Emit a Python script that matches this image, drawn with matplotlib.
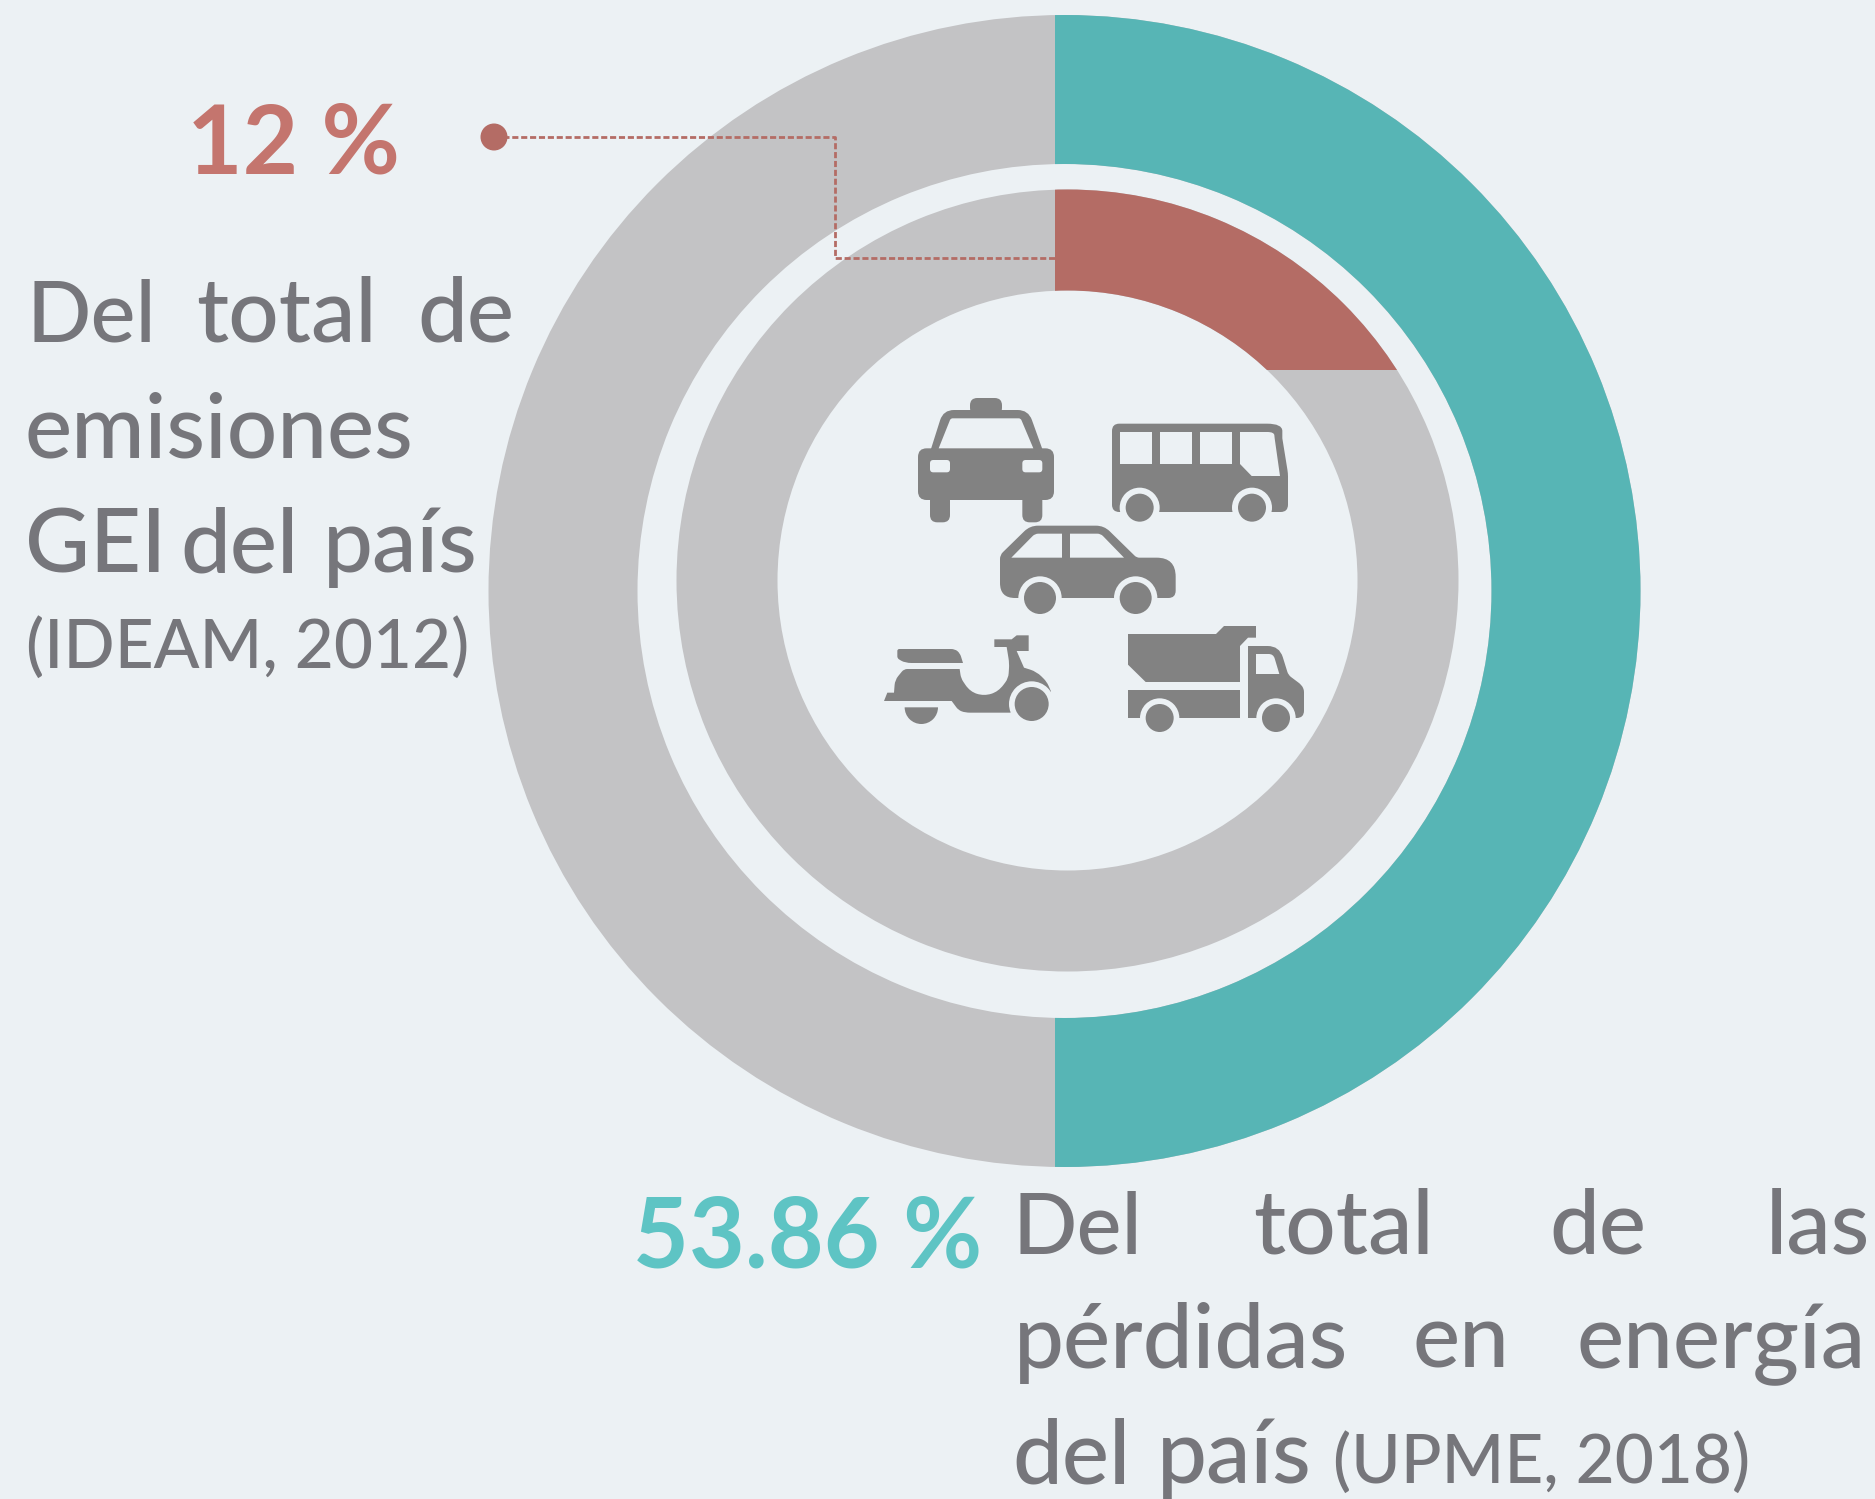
import numpy as np
import matplotlib
matplotlib.use("Agg")
import matplotlib.pyplot as plt
from matplotlib.patches import Wedge, Rectangle, Circle, PathPatch
from matplotlib.path import Path

# shares as they are drawn in the picture (the rings do not follow the printed labels)
outer_shares = [50.53, 49.47]
inner_shares = [16.47, 83.53]

big_labels = ["12 %", "53.86 %"]
words = ["Del", "total", "de",
         "emisiones",
         "GEI", "del", "país",
         "Del", "total", "de", "las",
         "pérdidas", "en", "energía",
         "del", "país"]
sources = ["(IDEAM, 2012)", "(UPME, 2018)"]

# layout of the justified text, left edge and baseline of each word
word_x = [26, 196, 417, 25, 25, 180, 323, 1013, 1253, 1549, 1766, 1014, 1413, 1577, 1012, 1157]
word_y = [341, 341, 341, 457, 572, 572, 572, 1253, 1253, 1253, 1253, 1368, 1368, 1368, 1483, 1483]
source_x = [26, 1333]
source_y = [668, 1483]

BG = "#ECF1F4"
TEAL = "#57B5B5"
GREY = "#C3C3C5"
RED = "#B46C65"
TXT = "#76767B"
ICON = "#828282"
inner_start_deg = -1.9

plt.rcParams["font.family"] = ["Lato", "DejaVu Sans"]

fig = plt.figure(figsize=(18.75, 14.99), dpi=100, facecolor=BG)
ax = fig.add_axes([0, 0, 1, 1])
ax.set_xlim(0, 1875)
ax.set_ylim(1499, 0)
ax.axis("off")


def ring(cx, cy, r_out, r_in, color, clip=None):
    w = Wedge((cx, cy), r_out, 0, 360, width=r_out - r_in, facecolor=color, edgecolor="none", zorder=2)
    ax.add_patch(w)
    if clip is not None:
        w.set_clip_path(Rectangle(clip[:2], clip[2], clip[3], transform=ax.transData))


# outer ring
cx, cy, R, r = 1064.5, 591, 576, 427
ring(cx, cy, R, r, GREY)
delta = np.radians((360 * outer_shares[0] / 100 - 180) / 2)
split_x = cx - R * np.sin(delta)
ring(cx, cy, R, r, TEAL, clip=(split_x, 0, 1875, 1499))

# inner ring
cx2, cy2, R2, r2 = 1067.5, 580.5, 391, 290
ring(cx2, cy2, R2, r2, GREY)
a0 = np.radians(inner_start_deg)
a1 = a0 + np.radians(360 * inner_shares[0] / 100)
x0 = cx2 + R2 * np.sin(a0)
y1 = cy2 - R2 * np.cos(a1)
ring(cx2, cy2, R2, r2, RED, clip=(x0, 0, 1875, y1))

# leader line
ax.plot([494, 835, 835, x0], [137, 137, 258, 258], color=RED, lw=2, ls=(0, (2.2, 1.0)), zorder=3)
ax.add_patch(Circle((494, 137), 13.5, facecolor=RED, edgecolor="none", zorder=4))

# texts
ax.text(187, 173, big_labels[0], color="#C4756E", fontsize=69, fontweight="bold", ha="left", va="baseline")
ax.text(633, 1267, big_labels[1], color="#5EC4C4", fontsize=69.5, fontweight="bold", ha="left", va="baseline")
for w, x, y in zip(words, word_x, word_y):
    ax.text(x, y, w, color=TXT, fontsize=61 if w == "Del" else 64, fontweight="medium", ha="left", va="baseline")
for w, x, y in zip(sources, source_x, source_y):
    ax.text(x, y, w, color=TXT, fontsize=48.5, fontweight="medium", ha="left", va="baseline")


# icons, points are given in the coordinates of a 3x crop around the centre
def to_px(x, y):
    return 850 + x / 3, 370 + y / 3


def blob(points, rad=0, color=ICON, z=5):
    # polygon with rounded corners, a point may carry its own radius as third value
    pts = [p if len(p) == 3 else (p[0], p[1], rad) for p in points]
    verts, codes = [], []
    n = len(pts)
    for i in range(n):
        p = np.array(pts[i][:2], float)
        a = np.array(pts[i - 1][:2], float)
        b = np.array(pts[(i + 1) % n][:2], float)
        rr = pts[i][2]
        if rr > 0:
            s = p + (a - p) / np.linalg.norm(a - p) * min(rr, np.linalg.norm(a - p) / 2)
            e = p + (b - p) / np.linalg.norm(b - p) * min(rr, np.linalg.norm(b - p) / 2)
            verts += [s, p, e]
            codes += [Path.LINETO, Path.CURVE3, Path.CURVE3]
        else:
            verts.append(p)
            codes.append(Path.LINETO)
    codes[0] = Path.MOVETO
    verts.append(verts[0])
    codes.append(Path.CLOSEPOLY)
    verts = [to_px(*v) for v in verts]
    ax.add_patch(PathPatch(Path(verts, codes), facecolor=color, edgecolor="none", zorder=z))


def box(x0, y0, x1, y1, rad=0, color=ICON, z=5):
    blob([(x0, y0), (x1, y0), (x1, y1), (x0, y1)], rad, color, z)


def wheel(x, y, r_arch, r_wheel, z=6):
    ax.add_patch(Circle(to_px(x, y), r_arch / 3, facecolor=BG, edgecolor="none", zorder=z))
    ax.add_patch(Circle(to_px(x, y), r_wheel / 3, facecolor=ICON, edgecolor="none", zorder=z + 1))


# taxi
box(360, 84, 456, 135, 22)
blob([(242, 240), (280, 120, 32), (535, 120, 32), (578, 240)])
box(204, 235, 612, 390, 26)
box(240, 370, 300, 457, 22)
box(517, 370, 577, 457, 22)
blob([(266, 235), (302, 145, 6), (512, 145, 6), (550, 235)], color=BG, z=6)
box(240, 270, 300, 307, 10, color=BG, z=6)
box(517, 270, 577, 307, 10, color=BG, z=6)

# bus
blob([(786, 161, 22), (1297, 161, 46), (1297, 205), (1314, 310, 10), (1314, 426, 22), (786, 426, 22)])
box(809, 186, 906, 282, 0, color=BG, z=6)
box(930, 186, 1026, 282, 0, color=BG, z=6)
box(1050, 186, 1146, 282, 0, color=BG, z=6)
blob([(1170, 186), (1272, 186, 20), (1274, 205), (1290, 318), (1205, 318), (1170, 282)], color=BG, z=6)
wheel(869, 413, 60, 42)
wheel(1206, 413, 60, 42)

# car
blob([(450, 555, 12), (540, 467, 24), (762, 467, 24), (860, 563, 8),
      (977, 563, 57), (977, 684, 22), (450, 684, 45)])
blob([(484, 563), (555, 491, 10), (636, 491), (636, 563)], color=BG, z=6)
blob([(660, 491), (752, 491, 10), (822, 563), (660, 563)], color=BG, z=6)
wheel(570, 684, 65, 48)
wheel(857, 684, 65, 48)

# scooter
blob([(142, 837, 6), (315, 837, 12), (330, 850, 10), (339, 879), (165, 879, 20), (142, 865, 6)])
blob([(102, 993), (112, 968), (132, 968), (135, 930, 15), (162, 897, 10), (329, 897), (333, 925, 12), (360, 965, 25),
      (402, 978, 25), (445, 965, 25), (475, 925, 15), (478, 880, 15), (470, 831), (433, 831), (433, 808),
      (485, 808), (500, 796), (536, 796), (536, 843), (500, 843), (522, 893), (560, 905, 20), (590, 935, 12),
      (603, 964), (560, 1000), (480, 1028), (345, 1028, 16), (325, 1020, 10), (305, 993)])
wheel(545, 1002, 68, 51)
ax.add_patch(Wedge(to_px(214, 1012), 50 / 3, 0, 180, facecolor=ICON, edgecolor="none", zorder=5))

# truck
blob([(834, 792), (1098, 792), (1122, 768), (1218, 768), (1218, 803), (1194, 803), (1170, 828), (1170, 936),
      (887, 936), (834, 884)])
box(834, 960, 1170, 1044)
blob([(1194, 828), (1288, 828, 35), (1315, 915, 10), (1355, 945, 12), (1362, 960, 6),
      (1362, 1044, 22), (1194, 1044)])
blob([(1218, 852), (1270, 852, 14), (1288, 912), (1218, 912)], color=BG, z=6)
wheel(929, 1044, 59, 42)
wheel(1278, 1044, 59, 42)

fig.savefig("out.png", dpi=100, facecolor=BG)
